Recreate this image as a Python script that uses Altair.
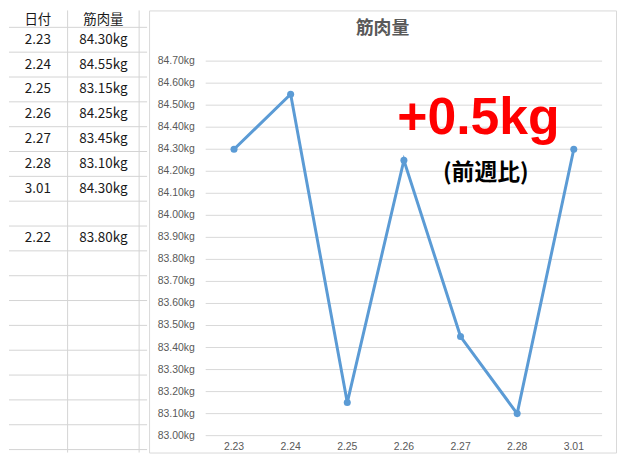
import altair as alt
import pandas as pd

# ---------------- data ----------------
dates = ["2.23", "2.24", "2.25", "2.26", "2.27", "2.28", "3.01"]
muscle = [84.30, 84.55, 83.15, 84.25, 83.45, 83.10, 84.30]

y_ticks = [83.00, 83.10, 83.20, 83.30, 83.40, 83.50, 83.60, 83.70, 83.80,
           83.90, 84.00, 84.10, 84.20, 84.30, 84.40, 84.50, 84.60, 84.70]

table_header = ["日付", "筋肉量"]
table_dates = ["2.23", "2.24", "2.25", "2.26", "2.27", "2.28", "3.01", "", "2.22"]
table_values = ["84.30kg", "84.55kg", "83.15kg", "84.25kg", "83.45kg",
                "83.10kg", "84.30kg", "", "83.80kg"]

chart_title = "筋肉量"
annot_main = "+0.5kg"
annot_sub = "(前週比)"

# ---------------- layout ----------------
T_W, H = 139, 445
C_W = 470
GRID_COLOR = "#D9D9D9"
CELL_LINE = "#D4D4D4"
LABEL_COLOR = "#595959"
LINE_COLOR = "#5B9BD5"

# ---------------- spreadsheet table ----------------
col_centers = [37, 103]
col_edges = [67, 139]
n_row_lines = 18

rows = [table_header] + [[d, v] for d, v in zip(table_dates, table_values)]
cells = []
for r, row in enumerate(rows):
    for c, txt in enumerate(row):
        if txt:
            cells.append({"cx": col_centers[c], "ry": (r + 0.5) if r > 0 else 0.71, "txt": txt})
cells_df = pd.DataFrame(cells)
hl_df = pd.DataFrame({"ry": list(range(1, n_row_lines + 1))})
vl_df = pd.DataFrame({"cx": col_edges})

tx = alt.Scale(domain=[8, 8 + T_W], nice=False, zero=False)
ty = alt.Scale(domain=[0.32, 0.32 + H / 25], reverse=True, nice=False, zero=False)

t_h = alt.Chart(hl_df).mark_rule(color=CELL_LINE, strokeWidth=1).encode(
    y=alt.Y("ry:Q", scale=ty, axis=None))
t_v = alt.Chart(vl_df).mark_rule(color=CELL_LINE, strokeWidth=1).encode(
    x=alt.X("cx:Q", scale=tx, axis=None))
t_txt = alt.Chart(cells_df).mark_text(
    font="Noto Sans CJK JP", fontSize=13.5, color="#1A1A1A",
    align="center", baseline="middle").encode(
    x=alt.X("cx:Q", scale=tx, axis=None),
    y=alt.Y("ry:Q", scale=ty, axis=None),
    text="txt:N")

table = alt.layer(t_h, t_v, t_txt).properties(
    width=T_W, height=H, view=alt.ViewBackground(stroke="transparent"))

# ---------------- line chart ----------------
line_df = pd.DataFrame({"idx": list(range(len(dates))), "v": muscle})
grid_df = pd.DataFrame({"v": y_ticks, "x0": -0.5, "x1": len(dates) - 0.5})
ylab_df = pd.DataFrame({"v": y_ticks, "lab": [f"{t:.2f}kg" for t in y_ticks], "x": -0.693})
xlab_df = pd.DataFrame({"idx": list(range(len(dates))), "lab": dates, "y": 82.95036})

xs = alt.Scale(domain=[-1.5, 6.7456], nice=False, zero=False)
ys = alt.Scale(domain=[82.92331, 84.92998], nice=False, zero=False)

grid = alt.Chart(grid_df).mark_rule(color=GRID_COLOR, strokeWidth=1).encode(
    x=alt.X("x0:Q", scale=xs, axis=None), x2="x1:Q",
    y=alt.Y("v:Q", scale=ys, axis=None))

ylabels = alt.Chart(ylab_df).mark_text(
    font="Liberation Sans", fontSize=10.5, color=LABEL_COLOR,
    align="right", baseline="middle").encode(
    x=alt.X("x:Q", scale=xs, axis=None),
    y=alt.Y("v:Q", scale=ys, axis=None),
    text="lab:N")

xlabels = alt.Chart(xlab_df).mark_text(
    font="Liberation Sans", fontSize=10.5, color=LABEL_COLOR,
    align="center", baseline="middle").encode(
    x=alt.X("idx:Q", scale=xs, axis=None),
    y=alt.Y("y:Q", scale=ys, axis=None),
    text="lab:N")

line = alt.Chart(line_df).mark_line(color=LINE_COLOR, strokeWidth=3).encode(
    x=alt.X("idx:Q", scale=xs, axis=None),
    y=alt.Y("v:Q", scale=ys, axis=None),
    order="idx:Q")

pts = alt.Chart(line_df).mark_point(filled=True, color=LINE_COLOR, size=50,
                                     opacity=1, shape="circle").encode(
    x=alt.X("idx:Q", scale=xs, axis=None),
    y=alt.Y("v:Q", scale=ys, axis=None))

title_df = pd.DataFrame({"x": [2.623], "y": [84.8443], "t": [chart_title]})
title_mark = alt.Chart(title_df).mark_text(
    font="Noto Sans CJK JP", fontSize=18, fontWeight="bold", color=LABEL_COLOR,
    align="center", baseline="middle").encode(
    x=alt.X("x:Q", scale=xs, axis=None), y=alt.Y("y:Q", scale=ys, axis=None),
    text="t:N")

ann_df = pd.DataFrame({"x": [4.316], "y": [84.3708], "t": [annot_main]})
ann = alt.Chart(ann_df).mark_text(
    font="Liberation Sans", fontSize=52, fontWeight="bold", color="#FF0000",
    align="center", baseline="alphabetic").encode(
    x=alt.X("x:Q", scale=xs, axis=None), y=alt.Y("y:Q", scale=ys, axis=None),
    text="t:N")

sub_df = pd.DataFrame({"x": [4.447], "y": [84.1904], "t": [annot_sub]})
sub = alt.Chart(sub_df).mark_text(
    font="Noto Sans CJK JP", fontSize=23, fontWeight="bold", color="#000000",
    align="center", baseline="middle").encode(
    x=alt.X("x:Q", scale=xs, axis=None), y=alt.Y("y:Q", scale=ys, axis=None),
    text="t:N")

panel = alt.layer(grid, ylabels, xlabels, line, pts, title_mark, ann, sub).properties(
    width=C_W, height=H,
    view=alt.ViewBackground(stroke=GRID_COLOR, strokeWidth=1))

chart = alt.hconcat(table, panel, spacing=0).properties(
    padding=0, background="white")

chart.save("out.html", embed_options={"renderer": "svg", "actions": False})
